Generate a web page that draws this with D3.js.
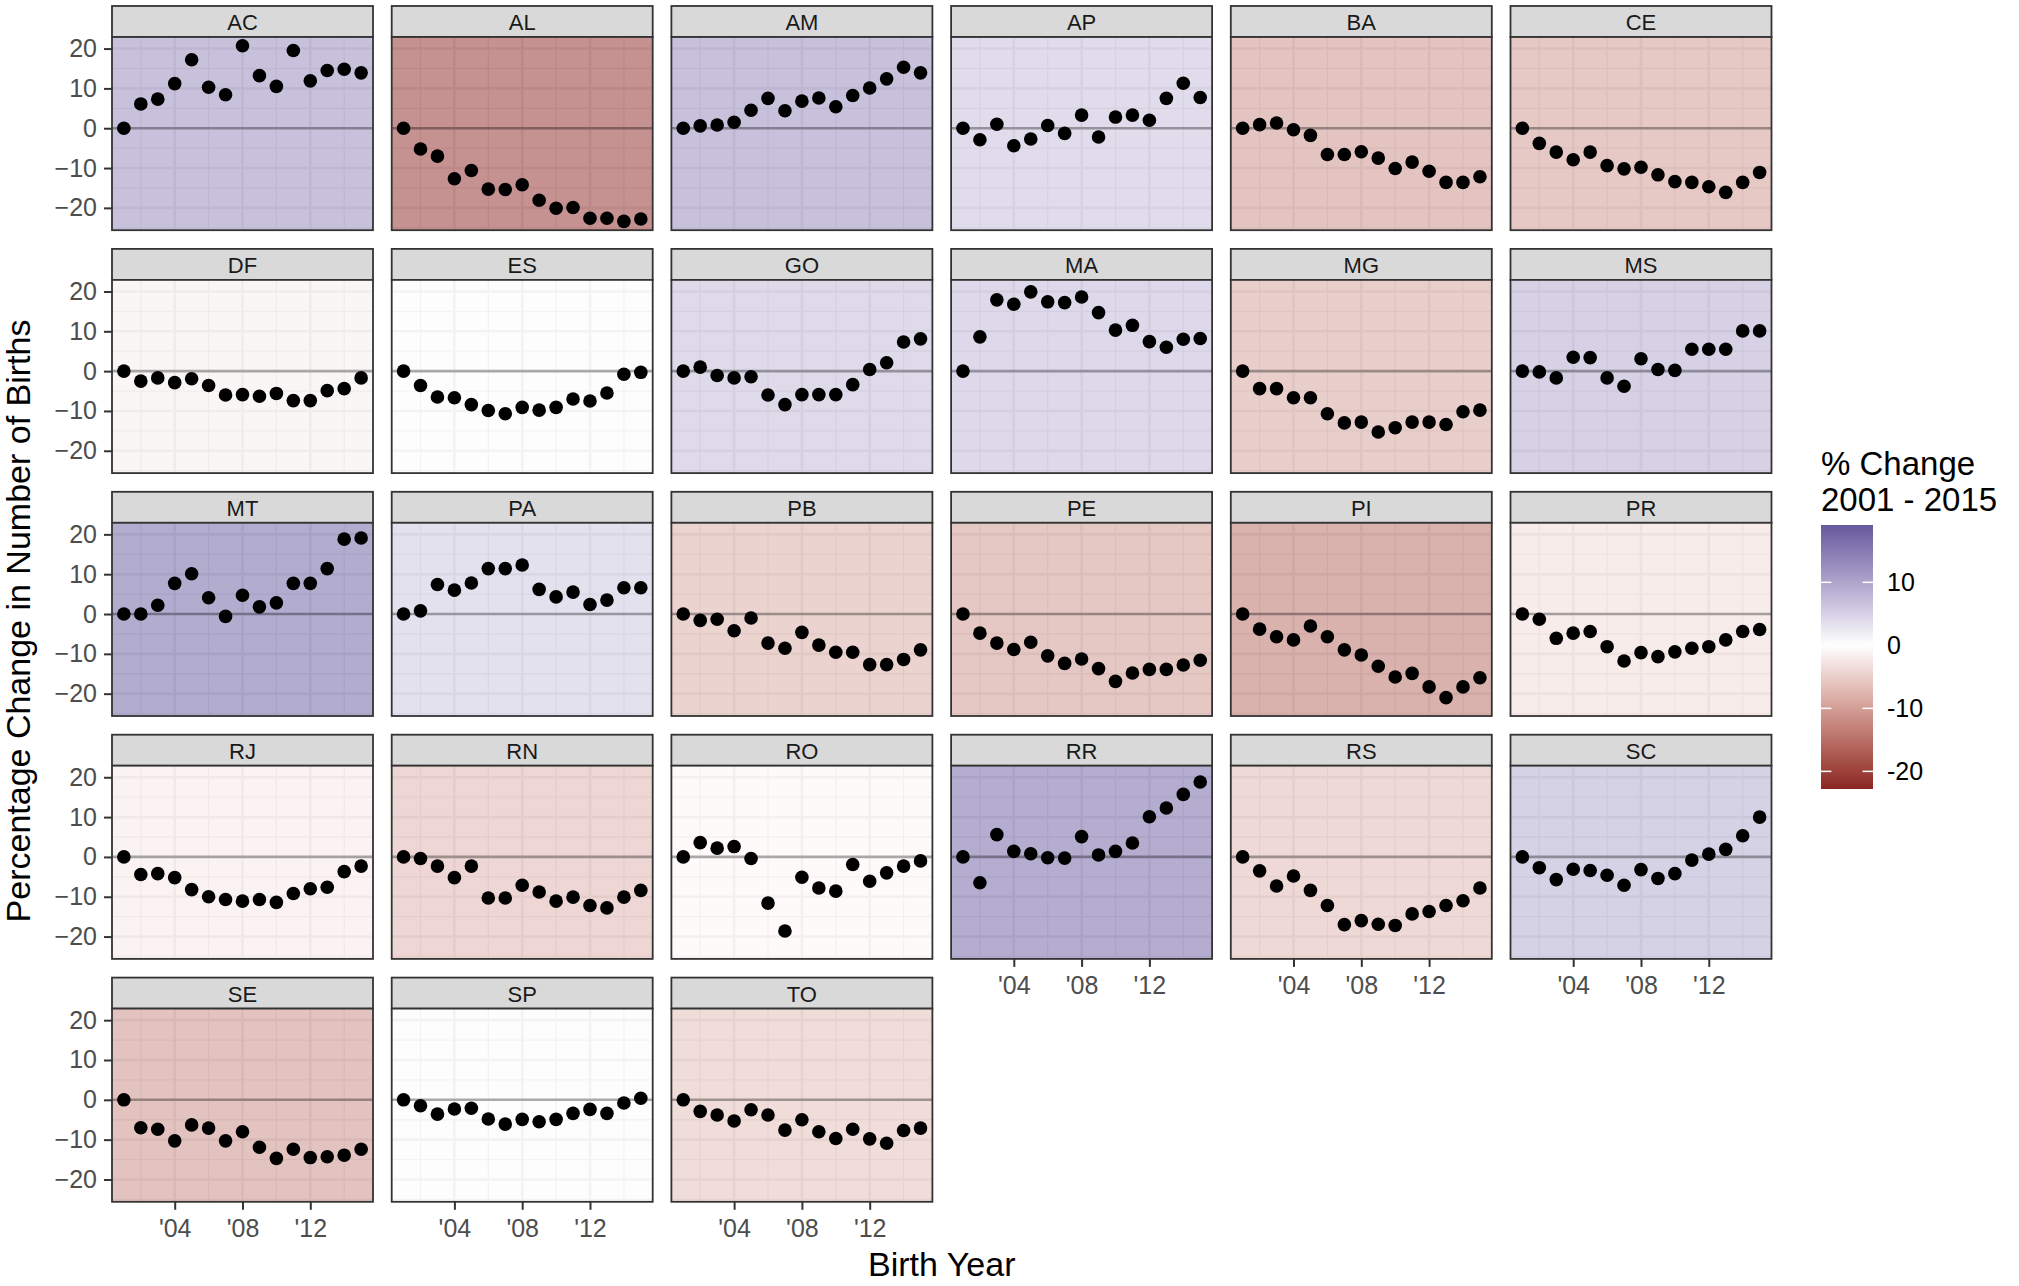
<!DOCTYPE html>
<html>
<head>
<meta charset="utf-8">
<script src="https://cdn.jsdelivr.net/npm/d3@7"></script>
<style>
  html, body { margin: 0; padding: 0; background: #fff; }
  svg { display: block; font-family: "Liberation Sans", Arial, Helvetica, sans-serif; }
</style>
</head>
<body>
<div id="graphic"></div>
<script>
// birth years on the x axis
const years = [2001, 2002, 2003, 2004, 2005, 2006, 2007, 2008, 2009, 2010, 2011, 2012, 2013, 2014, 2015];

// facet order (alphabetical, as facet_wrap lays them out)
const states = ["AC", "AL", "AM", "AP", "BA", "CE",
                "DF", "ES", "GO", "MA", "MG", "MS",
                "MT", "PA", "PB", "PE", "PI", "PR",
                "RJ", "RN", "RO", "RR", "RS", "SC",
                "SE", "SP", "TO"];

// % change in number of births vs 2001, one array per state
const AC = [0, 6.1, 7.3, 11.2, 17.2, 10.3, 8.4, 20.7, 13.2, 10.5, 19.5, 11.9, 14.5, 14.8, 13.9];
const AL = [0, -5.2, -7.0, -12.7, -10.6, -15.3, -15.4, -14.2, -18.1, -20.1, -19.9, -22.6, -22.6, -23.4, -22.8];
const AM = [0, 0.6, 0.8, 1.5, 4.5, 7.5, 4.4, 6.8, 7.6, 5.4, 8.2, 10.1, 12.4, 15.3, 13.9];
const AP = [0, -2.9, 1.0, -4.4, -2.7, 0.7, -1.3, 3.3, -2.2, 2.8, 3.3, 2.0, 7.5, 11.3, 7.7];
const BA = [0, 0.9, 1.3, -0.4, -1.8, -6.6, -6.6, -5.9, -7.5, -10.1, -8.5, -10.8, -13.6, -13.6, -12.2];
const CE = [0, -3.8, -6.0, -7.9, -6.0, -9.4, -10.2, -9.8, -11.7, -13.4, -13.6, -14.7, -16.1, -13.6, -11.1];
const DF = [0, -2.5, -1.7, -2.9, -1.9, -3.6, -6.0, -5.9, -6.3, -5.6, -7.4, -7.4, -4.9, -4.4, -1.7];
const ES = [0, -3.6, -6.5, -6.7, -8.4, -9.9, -10.7, -9.1, -9.8, -9.1, -7.0, -7.5, -5.5, -0.8, -0.3];
const GO = [0, 1.0, -1.1, -1.7, -1.4, -6.0, -8.4, -5.9, -5.9, -5.9, -3.4, 0.4, 2.1, 7.3, 8.1];
const MA = [0, 8.6, 17.9, 16.8, 19.9, 17.4, 17.2, 18.6, 14.7, 10.3, 11.5, 7.4, 6.0, 8.0, 8.2];
const MG = [0, -4.4, -4.4, -6.7, -6.7, -10.7, -13.0, -12.8, -15.3, -14.2, -12.8, -12.8, -13.4, -10.2, -9.8];
const MS = [0, -0.2, -1.7, 3.5, 3.4, -1.7, -3.8, 3.1, 0.4, 0.2, 5.5, 5.5, 5.5, 10.1, 10.1];
const MT = [0, 0, 2.2, 7.7, 10.1, 4.1, -0.6, 4.7, 1.8, 2.8, 7.7, 7.7, 11.4, 18.8, 19.1];
const PA = [0, 0.8, 7.4, 6.0, 7.8, 11.4, 11.4, 12.3, 6.2, 4.3, 5.5, 2.4, 3.5, 6.6, 6.6];
const PB = [0, -1.6, -1.3, -4.2, -1.0, -7.3, -8.6, -4.6, -7.8, -9.6, -9.6, -12.7, -12.7, -11.4, -9.0];
const PE = [0, -4.8, -7.3, -8.9, -7.1, -10.5, -12.4, -11.3, -13.7, -16.9, -14.8, -13.9, -13.9, -12.8, -11.6];
const PI = [0, -3.8, -5.7, -6.5, -3.0, -5.7, -9.0, -10.3, -13.1, -15.8, -14.9, -18.3, -21.0, -18.3, -16.0];
const PR = [0, -1.3, -6.1, -4.8, -4.4, -8.2, -11.8, -9.7, -10.7, -9.5, -8.6, -8.2, -6.5, -4.4, -3.9];
const RJ = [0, -4.4, -4.2, -5.2, -8.2, -10.0, -10.7, -11.1, -10.7, -11.4, -9.2, -8.0, -7.6, -3.7, -2.3];
const RN = [0, -0.4, -2.3, -5.2, -2.3, -10.3, -10.3, -7.1, -8.8, -11.1, -10.1, -12.2, -12.8, -10.1, -8.4];
const RO = [0, 3.6, 2.2, 2.6, -0.4, -11.6, -18.6, -5.1, -7.8, -8.6, -1.9, -6.1, -4.0, -2.3, -1.0];
const RR = [0, -6.5, 5.6, 1.4, 0.8, -0.2, -0.3, 5.1, 0.5, 1.4, 3.5, 10.1, 12.3, 15.7, 18.8];
const RS = [0, -3.5, -7.3, -4.8, -8.4, -12.2, -17.0, -16.0, -16.9, -17.2, -14.3, -13.7, -12.2, -11.0, -7.8];
const SC = [0, -2.7, -5.7, -3.1, -3.4, -4.6, -7.1, -3.2, -5.4, -4.2, -0.8, 0.7, 1.9, 5.3, 10.0];
const SE = [0, -7.0, -7.4, -10.3, -6.3, -7.1, -10.3, -8.0, -11.9, -14.7, -12.4, -14.5, -14.3, -13.9, -12.4];
const SP = [0, -1.5, -3.6, -2.3, -2.1, -4.8, -6.1, -4.9, -5.5, -4.9, -3.4, -2.4, -3.4, -0.8, 0.4];
const TO = [0, -2.9, -3.8, -5.3, -2.5, -3.8, -7.6, -5.0, -8.0, -9.7, -7.4, -9.8, -10.9, -7.7, -7.1];

// axis ticks
const yTicks = [-20, -10, 0, 10, 20];
const xTicks = [2004, 2008, 2012];
const xTickLabels = ["'04", "'08", "'12"];
const legendTicks = [-20, -10, 0, 10];

// ---------------------------------------------------------------
const seriesByState = { AC, AL, AM, AP, BA, CE, DF, ES, GO, MA, MG, MS, MT, PA, PB, PE, PI, PR, RJ, RN, RO, RR, RS, SC, SE, SP, TO };

// tidy rows + the % change 2001-2015 used for the panel fill
const panels = states.map((s, i) => ({
	state: s,
	index: i,
	points: years.map((yr, j) => ({ year: yr, value: seriesByState[s][j] })),
	change: seriesByState[s][years.length - 1]
}));

const width = 2019, height = 1286;
const margin = { left: 112, top: 6 };
const ncol = 6;
const panelW = 261, panelH = 193.2, stripH = 31, gap = 18.7;
const nrow = Math.ceil(states.length / ncol);

// ggplot-like 5% expansion
function expand(ext) {
	const pad = (ext[1] - ext[0]) * 0.05;
	return [ext[0] - pad, ext[1] + pad];
}

const x = d3.scaleLinear().domain(expand(d3.extent(years))).range([0, panelW]);
const allValues = panels.flatMap((p) => p.points.map((d) => d.value));
const y = d3.scaleLinear().domain(expand(d3.extent(allValues))).range([panelH, 0]);

// minor breaks sit half way between the majors
const yMinor = [-25, -15, -5, 5, 15].filter((v) => v >= y.domain()[0] && v <= y.domain()[1]);
const xMinor = [2002, 2006, 2010, 2014];

// scale_fill_gradient2 (low / white / high, Lab interpolation, midpoint 0)
const lowCol = "#8B2323", midCol = "#FFFFFF", highCol = "#483D8B";
const changeExtent = d3.extent(panels, (d) => d.change);
const maxAbs = d3.max(changeExtent, (v) => Math.abs(v));
function fillColour(v) {
	const t = v / (2 * maxAbs) + 0.5;
	return t < 0.5
		? d3.interpolateLab(lowCol, midCol)(t * 2)
		: d3.interpolateLab(midCol, highCol)((t - 0.5) * 2);
}

const svg = d3.select('#graphic')
	.append('svg')
	.attr('width', width)
	.attr('height', height);

panels.forEach((p) => {
	const col = p.index % ncol;
	const row = Math.floor(p.index / ncol);
	const px = margin.left + col * (panelW + gap);
	const stripTop = margin.top + row * (stripH + panelH + gap);
	const py = stripTop + stripH;

	// strip
	const strip = svg.append('g').attr('transform', `translate(${px},${stripTop})`);
	strip.append('rect')
		.attr('width', panelW).attr('height', stripH)
		.attr('fill', '#D9D9D9').attr('stroke', '#333333').attr('stroke-width', 1.8);
	strip.append('text')
		.attr('x', panelW / 2).attr('y', stripH / 2 + 1)
		.attr('text-anchor', 'middle').attr('dominant-baseline', 'central')
		.attr('fill', '#1A1A1A').style('font-size', '22px')
		.text(p.state);

	const g = svg.append('g').attr('transform', `translate(${px},${py})`);

	g.append('rect').attr('width', panelW).attr('height', panelH).attr('fill', '#fff');

	// grid
	g.append('g').selectAll('line').data(yMinor).join('line')
		.attr('x1', 0).attr('x2', panelW).attr('y1', (d) => y(d)).attr('y2', (d) => y(d))
		.attr('stroke', '#EBEBEB').attr('stroke-width', 1.3);
	g.append('g').selectAll('line').data(xMinor).join('line')
		.attr('y1', 0).attr('y2', panelH).attr('x1', (d) => x(d)).attr('x2', (d) => x(d))
		.attr('stroke', '#EBEBEB').attr('stroke-width', 1.3);
	g.append('g').selectAll('line').data(yTicks).join('line')
		.attr('x1', 0).attr('x2', panelW).attr('y1', (d) => y(d)).attr('y2', (d) => y(d))
		.attr('stroke', '#EBEBEB').attr('stroke-width', 2.6);
	g.append('g').selectAll('line').data(xTicks).join('line')
		.attr('y1', 0).attr('y2', panelH).attr('x1', (d) => x(d)).attr('x2', (d) => x(d))
		.attr('stroke', '#EBEBEB').attr('stroke-width', 2.6);

	// coloured background for the state's overall change
	g.append('rect')
		.attr('width', panelW).attr('height', panelH)
		.attr('fill', fillColour(p.change)).attr('fill-opacity', 0.5);

	// zero line
	g.append('line')
		.attr('x1', 0).attr('x2', panelW).attr('y1', y(0)).attr('y2', y(0))
		.attr('stroke', '#000').attr('stroke-opacity', 0.3).attr('stroke-width', 2.6);

	// points
	g.append('g').selectAll('circle').data(p.points).join('circle')
		.attr('cx', (d) => x(d.year)).attr('cy', (d) => y(d.value))
		.attr('r', 6.8).attr('fill', '#000');

	g.append('rect')
		.attr('width', panelW).attr('height', panelH)
		.attr('fill', 'none').attr('stroke', '#333333').attr('stroke-width', 1.8);

	// y axis on first column
	if (col === 0) {
		const ax = g.append('g')
			.call(d3.axisLeft(y).tickValues(yTicks).tickSize(8).tickPadding(7).tickFormat(d3.format('d')));
		ax.select('.domain').remove();
		ax.selectAll('line').attr('stroke', '#333333').attr('stroke-width', 2);
		ax.selectAll('text').attr('fill', '#4D4D4D').style('font-size', '25px')
			.style('font-family', '"Liberation Sans", Arial, sans-serif');
	}

	// x axis under the lowest panel of each column
	const lowest = (row === nrow - 1) || (p.index + ncol >= states.length);
	if (lowest) {
		const ax = g.append('g')
			.attr('transform', `translate(0,${panelH})`)
			.call(d3.axisBottom(x).tickValues(xTicks).tickSize(8).tickPadding(9)
				.tickFormat((d, i) => xTickLabels[i]));
		ax.select('.domain').remove();
		ax.selectAll('line').attr('stroke', '#333333').attr('stroke-width', 2);
		ax.selectAll('text').attr('fill', '#4D4D4D').style('font-size', '25px')
			.style('font-family', '"Liberation Sans", Arial, sans-serif');
	}
});

// axis titles
const panelsRight = margin.left + ncol * panelW + (ncol - 1) * gap;
svg.append('text')
	.attr('x', (margin.left + panelsRight) / 2).attr('y', 1276)
	.attr('text-anchor', 'middle').attr('fill', '#000')
	.style('font-size', '34px')
	.text('Birth Year');

svg.append('text')
	.attr('transform', 'translate(30,621) rotate(-90)')
	.attr('text-anchor', 'middle').attr('fill', '#000')
	.style('font-size', '34px')
	.text('Percentage Change in Number of Births');

// legend (colour bar)
const legX = 1821, barW = 52;
const ly = d3.scaleLinear().domain(changeExtent).range([789, 525]);

const grad = svg.append('defs').append('linearGradient')
	.attr('id', 'fillbar').attr('x1', 0).attr('x2', 0).attr('y1', 1).attr('y2', 0);
d3.range(0, 1.0001, 0.02).forEach((t) => {
	const v = changeExtent[0] + t * (changeExtent[1] - changeExtent[0]);
	grad.append('stop').attr('offset', t).attr('stop-color', fillColour(v));
});

const legend = svg.append('g');
legend.append('text')
	.attr('x', legX).attr('y', 475).attr('fill', '#000').style('font-size', '33px')
	.text('% Change');
legend.append('text')
	.attr('x', legX).attr('y', 511).attr('fill', '#000').style('font-size', '33px')
	.text('2001 - 2015');

legend.append('rect')
	.attr('x', legX).attr('y', ly(changeExtent[1]))
	.attr('width', barW).attr('height', ly(changeExtent[0]) - ly(changeExtent[1]))
	.attr('fill', 'url(#fillbar)');

legend.selectAll('.tk-l').data(legendTicks).join('line')
	.attr('class', 'tk-l')
	.attr('x1', legX).attr('x2', legX + barW / 5)
	.attr('y1', (d) => ly(d)).attr('y2', (d) => ly(d))
	.attr('stroke', '#fff').attr('stroke-width', 1.5);
legend.selectAll('.tk-r').data(legendTicks).join('line')
	.attr('class', 'tk-r')
	.attr('x1', legX + barW * 4 / 5).attr('x2', legX + barW)
	.attr('y1', (d) => ly(d)).attr('y2', (d) => ly(d))
	.attr('stroke', '#fff').attr('stroke-width', 1.5);

legend.selectAll('.lab').data(legendTicks).join('text')
	.attr('class', 'lab')
	.attr('x', legX + barW + 14).attr('y', (d) => ly(d))
	.attr('dominant-baseline', 'central').attr('fill', '#000')
	.style('font-size', '25px')
	.text((d) => d);
</script>
</body>
</html>
